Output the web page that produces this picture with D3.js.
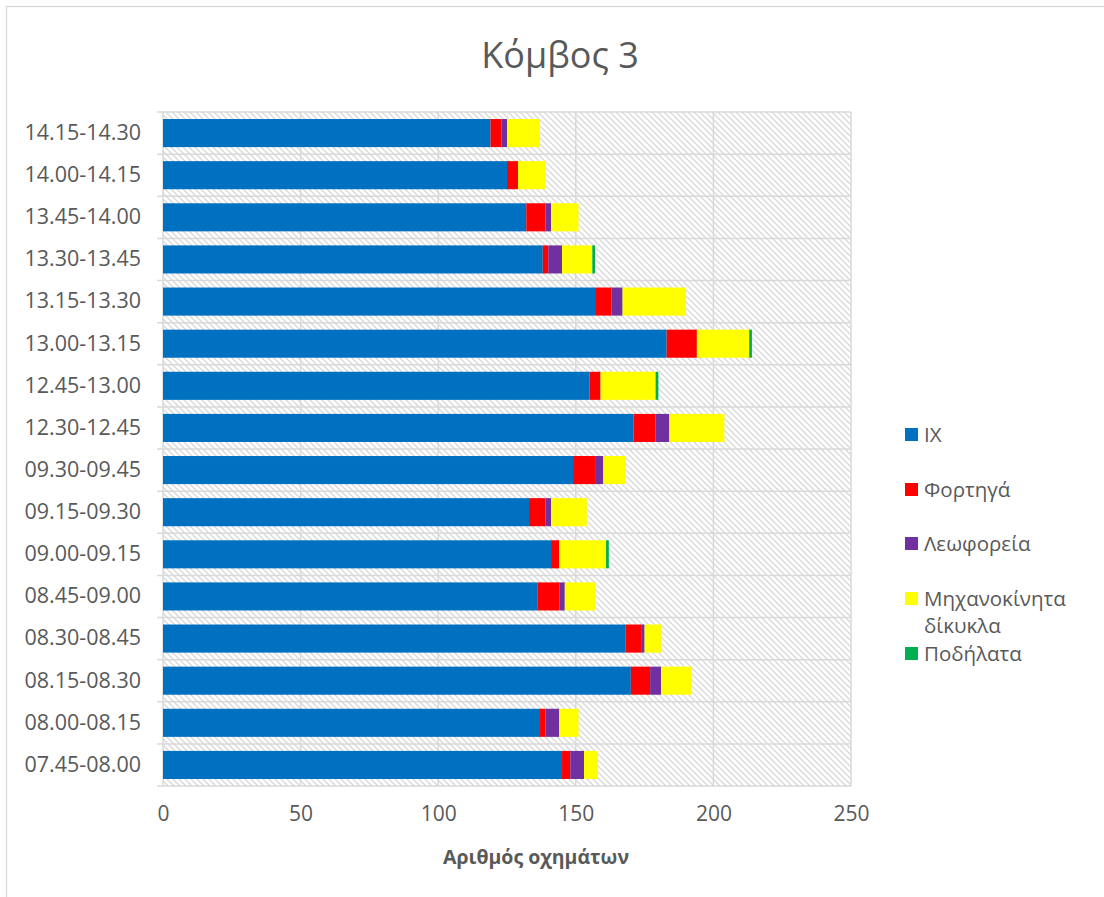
<!DOCTYPE html>
<html>
<head>
<meta charset="utf-8">
<script src="https://cdn.jsdelivr.net/npm/d3@7"></script>
<style>
  html, body { margin: 0; padding: 0; background: #fff; }
  svg { display: block; font-family: "Open Sans", "Noto Sans", sans-serif; }
</style>
</head>
<body>
<svg id="chart" width="1104" height="897"></svg>
<script>
// Time intervals (top to bottom as drawn)
const categories = [
  "14.15-14.30", "14.00-14.15", "13.45-14.00", "13.30-13.45",
  "13.15-13.30", "13.00-13.15", "12.45-13.00", "12.30-12.45",
  "09.30-09.45", "09.15-09.30", "09.00-09.15", "08.45-09.00",
  "08.30-08.45", "08.15-08.30", "08.00-08.15", "07.45-08.00"
];

// Vehicle counts per interval, one array per vehicle type
const ix          = [119, 125, 132, 138, 157, 183, 155, 171, 149, 133, 141, 136, 168, 170, 137, 145];
const trucks      = [  4,   4,   7,   2,   6,  11,   4,   8,   8,   6,   3,   8,   6,   7,   2,   3];
const buses       = [  2,   0,   2,   5,   4,   0,   0,   5,   3,   2,   0,   2,   1,   4,   5,   5];
const motorcycles = [ 12,  10,  10,  11,  23,  19,  20,  20,   8,  13,  17,  11,   6,  11,   7,   5];
const bicycles    = [  0,   0,   0,   1,   0,   1,   1,   0,   0,   0,   1,   0,   0,   0,   0,   0];

const seriesNames = ["ΙΧ", "Φορτηγά", "Λεωφορεία", "Μηχανοκίνητα δίκυκλα", "Ποδήλατα"];
const seriesColors = ["#0070C0", "#FF0000", "#7030A0", "#FFFF00", "#00B050"];
const xTicks = [0, 50, 100, 150, 200, 250];

const rows = categories.map((c, i) => ({
  cat: c,
  s0: ix[i], s1: trucks[i], s2: buses[i], s3: motorcycles[i], s4: bicycles[i]
}));
const keys = ["s0", "s1", "s2", "s3", "s4"];

const svg = d3.select("#chart");
const plot = { left: 163, right: 851, top: 112, bottom: 786 };
const textColor = "#595959";
const gridColor = "#d9d9d9";

// Outer chart frame
svg.append("rect")
  .attr("x", 6.5).attr("y", 6.5)
  .attr("width", 1120).attr("height", 920)
  .attr("fill", "#fff").attr("stroke", gridColor).attr("stroke-width", 1.3);

// Hatched plot background
const defs = svg.append("defs");
const pat = defs.append("pattern")
  .attr("id", "hatch")
  .attr("patternUnits", "userSpaceOnUse")
  .attr("width", 6).attr("height", 6);
pat.append("rect").attr("width", 6).attr("height", 6).attr("fill", "#fff");
pat.append("path")
  .attr("d", "M-1,-1 L7,7 M-1,5 L1,7 M5,-1 L7,1")
  .attr("stroke", "#d9d9d9").attr("stroke-width", 1.4);

const x = d3.scaleLinear().domain([0, 250]).range([plot.left, plot.right]);
const y = d3.scaleBand().domain(categories).range([plot.top, plot.bottom])
  .paddingInner(1 / 3).paddingOuter(1 / 6);

svg.append("rect")
  .attr("x", plot.left).attr("y", plot.top)
  .attr("width", plot.right - plot.left).attr("height", plot.bottom - plot.top)
  .attr("fill", "url(#hatch)");

// Gridlines: vertical at value ticks, horizontal at category boundaries
const g = svg.append("g");
g.selectAll("line.vg").data(xTicks.slice(1)).join("line")
  .attr("x1", d => x(d)).attr("x2", d => x(d))
  .attr("y1", plot.top).attr("y2", plot.bottom)
  .attr("stroke", gridColor).attr("stroke-width", 1.5);

const step = y.step();
const bounds = d3.range(categories.length + 1).map(i => plot.top + i * step);
g.selectAll("line.hg").data(bounds).join("line")
  .attr("x1", plot.left - 6).attr("x2", plot.right)
  .attr("y1", d => d).attr("y2", d => d)
  .attr("stroke", gridColor).attr("stroke-width", 1.5);

// Category axis line
g.append("line")
  .attr("x1", plot.left).attr("x2", plot.left)
  .attr("y1", plot.top).attr("y2", plot.bottom)
  .attr("stroke", gridColor).attr("stroke-width", 1.5);

// Stacked bars
const stacked = d3.stack().keys(keys)(rows);
svg.append("g").selectAll("g").data(stacked).join("g")
  .attr("fill", (d, i) => seriesColors[i])
  .selectAll("rect").data(d => d).join("rect")
  .attr("x", d => x(d[0]))
  .attr("width", d => x(d[1]) - x(d[0]))
  .attr("y", d => y(d.data.cat))
  .attr("height", y.bandwidth());

// Category labels
const yAxis = svg.append("g")
  .attr("transform", `translate(${plot.left},0)`)
  .call(d3.axisLeft(y).tickSize(0).tickPadding(22));
yAxis.select(".domain").remove();
yAxis.selectAll("text")
  .attr("fill", textColor).attr("font-size", "21.5px")
  .attr("font-family", "'Open Sans', sans-serif");

// Value labels
const xAxis = svg.append("g")
  .attr("transform", `translate(0,${plot.bottom})`)
  .call(d3.axisBottom(x).tickValues(xTicks).tickSize(0).tickPadding(20));
xAxis.select(".domain").remove();
xAxis.selectAll("text")
  .attr("fill", textColor).attr("font-size", "21px")
  .attr("font-family", "'Open Sans', sans-serif");

// Axis title
svg.append("text")
  .attr("x", 536).attr("y", 864)
  .attr("text-anchor", "middle")
  .attr("fill", textColor).attr("font-size", "19.5px").attr("font-weight", "bold")
  .text("Αριθμός οχημάτων");

// Chart title
svg.append("text")
  .attr("x", 560).attr("y", 68)
  .attr("text-anchor", "middle")
  .attr("fill", textColor).attr("font-size", "36px")
  .text("Κόμβος 3");

// Legend
const legendY = [435, 490, 544, 599, 654];
const legend = svg.append("g");
seriesNames.forEach((name, i) => {
  legend.append("rect")
    .attr("x", 905).attr("y", legendY[i] - 7)
    .attr("width", 13).attr("height", 13)
    .attr("fill", seriesColors[i]);
  const t = legend.append("text")
    .attr("x", 924).attr("y", legendY[i] + 7)
    .attr("fill", textColor).attr("font-size", "20.5px");
  if (name === "Μηχανοκίνητα δίκυκλα") {
    t.append("tspan").attr("x", 924).text("Μηχανοκίνητα");
    t.append("tspan").attr("x", 924).attr("dy", 27).text("δίκυκλα");
  } else {
    t.text(name);
  }
});
</script>
</body>
</html>
